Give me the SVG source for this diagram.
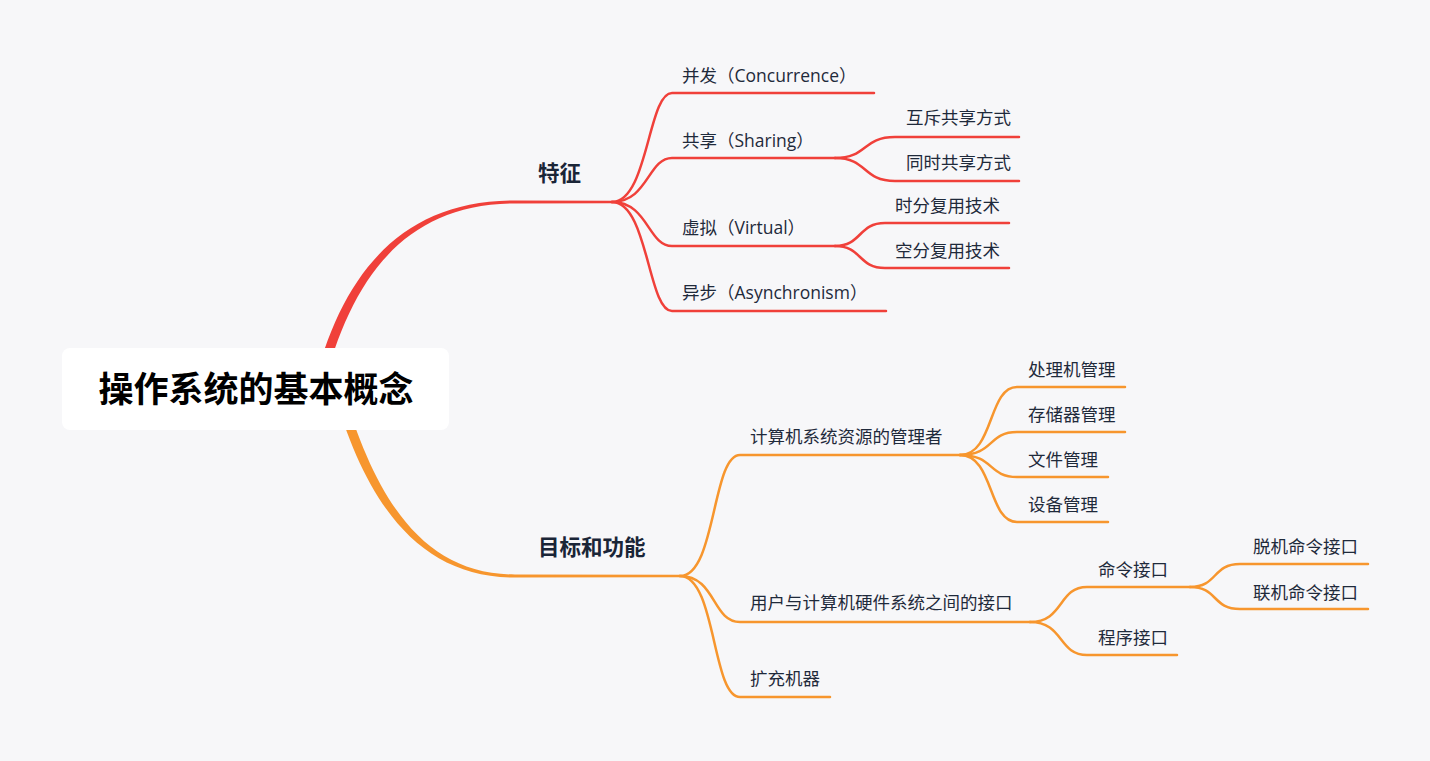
<svg xmlns="http://www.w3.org/2000/svg" width="1430" height="761" viewBox="0 0 1430 761">
<style>
.t{font-family:"Open Sans","Noto Sans CJK SC",sans-serif;font-size:17.5px;fill:#1f2a3b}
.h{font-family:"Noto Sans CJK SC","Noto Sans",sans-serif;font-size:21.5px;font-weight:bold;fill:#1a2537}
.r{font-family:"Noto Sans CJK SC","Noto Sans",sans-serif;font-size:35px;font-weight:bold;fill:#000}
.red{fill:none;stroke:#f0403a;stroke-width:2.5;stroke-linecap:round}
.org{fill:none;stroke:#f7962e;stroke-width:2.5;stroke-linecap:round}
</style>
<rect width="1430" height="761" fill="#f7f7f9"/>
<g id="connectors">
<path fill="#f0403a" d="M313,389 C340,278 398,200.3 515,200.5 L612,200.8 L612,203.2 L515,203.5 C402,203.7 350,282 323,389 Z"/>
<path fill="#f7962e" d="M333,389 C365,502 418,577.7 515,577.5 L680,577.2 L680,574.8 L515,574.5 C422,574.3 375,498 343,389 Z"/>
<path class="red" d="M612,202 C648,202 648,93 672,93 H874"/>
<path class="red" d="M612,202 C648,202 648,158 672,158 H835"/>
<path class="red" d="M612,202 C648,202 648,246 672,246 H835"/>
<path class="red" d="M612,202 C648,202 648,311 672,311 H886"/>
<path class="red" d="M835,158 C868,158 862,137 895,137 H1019"/>
<path class="red" d="M835,158 C868,158 862,181 895,181 H1019"/>
<path class="red" d="M835,246 C862,246 858,223 885,223 H1009"/>
<path class="red" d="M835,246 C862,246 858,268 885,268 H1009"/>
<path class="org" d="M680,576 C716,576 712,455 740,455 H960"/>
<path class="org" d="M680,576 C716,576 712,622 740,622 H1030"/>
<path class="org" d="M680,576 C716,576 712,697 740,697 H830"/>
<path class="org" d="M960,455 C994,455 988,387 1017,387 H1125"/>
<path class="org" d="M960,455 C994,455 988,432 1017,432 H1125"/>
<path class="org" d="M960,455 C994,455 988,477 1017,477 H1108"/>
<path class="org" d="M960,455 C994,455 988,522 1017,522 H1108"/>
<path class="org" d="M1030,622 C1064,622 1058,587 1087,587 H1190"/>
<path class="org" d="M1030,622 C1064,622 1058,655 1087,655 H1177"/>
<path class="org" d="M1190,587 C1218,587 1212,564 1240,564 H1368"/>
<path class="org" d="M1190,587 C1218,587 1212,609 1240,609 H1368"/>
</g>
<g id="root"><rect x="62" y="348" width="387" height="82" rx="8" fill="#ffffff"/><text class="r" x="256" y="402" text-anchor="middle">操作系统的基本概念</text></g>
<g id="n-tezheng"><text class="h" x="538" y="181">特征</text></g>
<g id="n-bingfa"><text class="t" x="682" y="82">并发（Concurrence）</text></g>
<g id="n-gongxiang"><text class="t" x="682" y="147">共享（Sharing）</text></g>
<g id="n-huchi"><text class="t" x="906" y="124">互斥共享方式</text></g>
<g id="n-tongshi"><text class="t" x="906" y="169">同时共享方式</text></g>
<g id="n-xuni"><text class="t" x="682" y="234">虚拟（Virtual）</text></g>
<g id="n-shifen"><text class="t" x="895" y="212">时分复用技术</text></g>
<g id="n-kongfen"><text class="t" x="895" y="257">空分复用技术</text></g>
<g id="n-yibu"><text class="t" x="682" y="299">异步（Asynchronism）</text></g>
<g id="n-mubiao"><text class="h" x="538" y="555">目标和功能</text></g>
<g id="n-ziyuan"><text class="t" x="750" y="443">计算机系统资源的管理者</text></g>
<g id="n-chuliji"><text class="t" x="1028" y="376">处理机管理</text></g>
<g id="n-cunchu"><text class="t" x="1028" y="421">存储器管理</text></g>
<g id="n-wenjian"><text class="t" x="1028" y="466">文件管理</text></g>
<g id="n-shebei"><text class="t" x="1028" y="511">设备管理</text></g>
<g id="n-jiekou"><text class="t" x="750" y="609">用户与计算机硬件系统之间的接口</text></g>
<g id="n-mingling"><text class="t" x="1098" y="576">命令接口</text></g>
<g id="n-chengxu"><text class="t" x="1098" y="644">程序接口</text></g>
<g id="n-tuoji"><text class="t" x="1253" y="553">脱机命令接口</text></g>
<g id="n-lianji"><text class="t" x="1253" y="599">联机命令接口</text></g>
<g id="n-kuochong"><text class="t" x="750" y="685">扩充机器</text></g>
</svg>
